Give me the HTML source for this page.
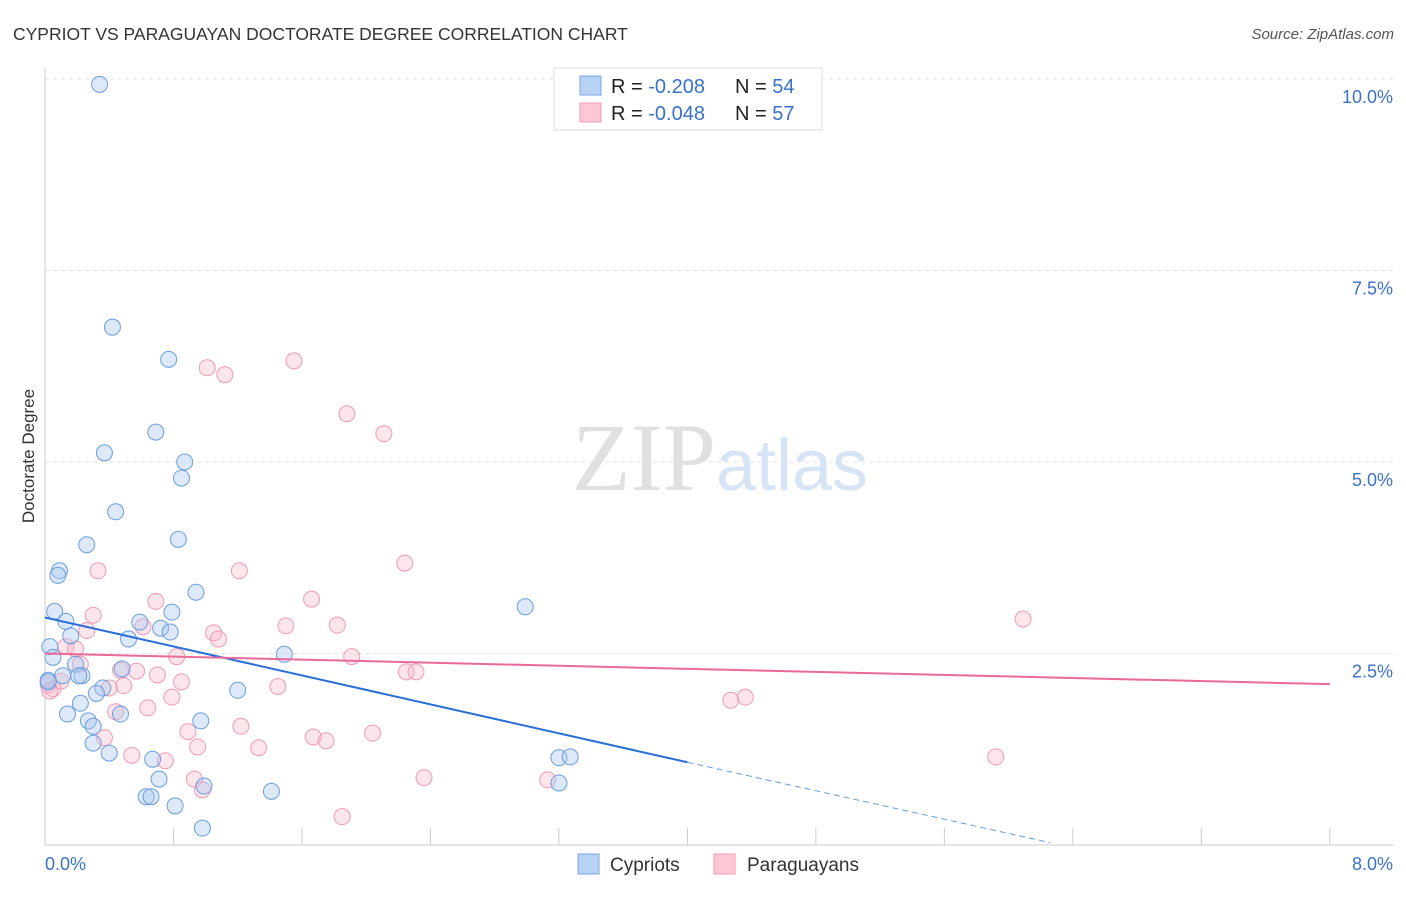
<!DOCTYPE html>
<html><head><meta charset="utf-8">
<style>
body{margin:0;background:#fff;font-family:"Liberation Sans",sans-serif;}
svg text{font-family:"Liberation Sans",sans-serif;}
</style></head>
<body>
<svg id="chart" width="1406" height="892">
<text x="13" y="40" font-size="17.5" fill="#333">CYPRIOT VS PARAGUAYAN DOCTORATE DEGREE CORRELATION CHART</text>
<text x="1394" y="39" font-size="15" fill="#555" text-anchor="end" font-style="italic">Source: ZipAtlas.com</text>
<text x="34" y="456" font-size="17" fill="#333" text-anchor="middle" transform="rotate(-90 34 456)">Doctorate Degree</text>
<g id="grid"></g>
<text x="720" y="490" font-size="96" fill="#ddd" text-anchor="middle" font-family="Liberation Serif"><tspan fill="#e0e0e0" font-family="Liberation Serif">ZIP</tspan><tspan fill="#d6e4f5" font-size="72" font-family="Liberation Sans">atlas</tspan></text>
<g id="marks"></g>
<g>
<rect x="554" y="68" width="268" height="62" fill="#fff" stroke="#ddd"/>
<rect x="580" y="76" width="21" height="19" fill="#b8d2f5" stroke="#7aa7e6"/>
<rect x="580" y="103" width="21" height="19" fill="#fcc8d6" stroke="#f09ab3"/>
<text x="611" y="93" font-size="20" fill="#222">R = <tspan fill="#3a72c8">-0.208</tspan><tspan x="735">N = </tspan><tspan fill="#3a72c8">54</tspan></text>
<text x="611" y="120" font-size="20" fill="#222">R = <tspan fill="#3a72c8">-0.048</tspan><tspan x="735">N = </tspan><tspan fill="#3a72c8">57</tspan></text>
</g>
<g>
<rect x="578" y="854" width="21" height="20" fill="#b8d2f5" stroke="#7aa7e6"/>
<text x="610" y="871" font-size="19" fill="#333">Cypriots</text>
<rect x="714" y="854" width="21" height="20" fill="#fcc8d6" stroke="#f09ab3"/>
<text x="747" y="871" font-size="19" fill="#333">Paraguayans</text>
</g>
</svg>
<script>
const xTicks=[0,0.8,1.6,2.4,3.2,4.0,4.8,5.6,6.4,7.2,8.0];
const yTicks=[2.5,5.0,7.5,10.0];
const yTickLabels=["2.5%","5.0%","7.5%","10.0%"];
const cypX=[0.34,0.42,0.77,0.69,0.37,0.87,0.85,0.44,0.83,0.26,0.09,0.08,0.94,2.99,0.06,0.79,0.13,0.59,0.72,0.78,0.16,0.52,0.03,0.05,1.49,0.19,0.48,0.11,0.23,0.36,1.20,0.32,0.22,0.14,0.47,0.27,0.97,0.30,0.30,0.40,0.67,3.20,3.27,0.71,0.99,1.41,0.63,0.66,0.81,3.20,0.98,0.02,0.02,0.21];
const cypY=[9.93,6.76,6.34,5.39,5.12,5.00,4.79,4.35,3.99,3.92,3.58,3.52,3.30,3.11,3.05,3.04,2.92,2.91,2.83,2.78,2.73,2.69,2.59,2.45,2.49,2.36,2.30,2.21,2.21,2.05,2.02,1.98,1.85,1.71,1.71,1.62,1.62,1.55,1.33,1.20,1.12,1.14,1.15,0.86,0.77,0.70,0.63,0.63,0.51,0.81,0.22,2.15,2.13,2.21];
const parX=[1.55,1.01,1.12,1.88,2.11,2.24,0.33,1.21,0.69,1.66,0.30,6.09,0.26,1.50,1.82,1.05,1.08,0.61,0.13,0.19,0.82,1.91,0.22,0.57,0.47,2.25,2.31,0.70,0.85,0.02,1.45,0.49,0.40,0.10,0.79,4.36,4.27,0.64,0.44,1.22,0.89,1.67,1.75,2.04,0.37,0.95,1.33,0.54,0.75,5.92,2.36,3.13,0.93,0.98,1.85,0.05,0.03];
const parY=[6.32,6.23,6.14,5.63,5.37,3.68,3.58,3.58,3.18,3.21,3.00,2.95,2.80,2.86,2.87,2.77,2.69,2.85,2.59,2.56,2.46,2.46,2.36,2.27,2.28,2.26,2.26,2.22,2.13,2.09,2.07,2.08,2.05,2.14,1.93,1.93,1.89,1.79,1.74,1.55,1.48,1.41,1.36,1.46,1.40,1.28,1.27,1.17,1.10,1.15,0.88,0.85,0.86,0.72,0.37,2.04,2.01];
const cypTrend=[[0,2.97],[4.0,1.08]];
const cypTrendDash=[[4.0,1.08],[6.26,0.03]];
const parTrend=[[0,2.50],[8.0,2.10]];
const NS="http://www.w3.org/2000/svg";
const sx=v=>45+v*160.6, sy=v=>845-v*76.6;
const grid=document.getElementById('grid'), marks=document.getElementById('marks');
function mk(tag,attrs,parent){const e=document.createElementNS(NS,tag);for(const k in attrs)e.setAttribute(k,attrs[k]);parent.appendChild(e);return e;}
let ax=mk('line',{x1:45,y1:68,x2:45,y2:845,stroke:'#ccc'},grid);


let bx=mk('line',{x1:45,y1:845,x2:1394,y2:845,stroke:'#ccc'},grid);


yTicks.forEach((t,i)=>{
 let g=mk('line',{x1:45,y1:sy(t),x2:1394,y2:sy(t),stroke:'#e0e0e0','stroke-dasharray':'4,4'},grid);
 
 
 let l=mk('text',{x:1393,y:sy(t)+24,'font-size':18,fill:'#3a72c8','text-anchor':'end'},grid);
 l.textContent=yTickLabels[i];
 
 
});
xTicks.forEach(t=>{
 let k=mk('line',{x1:sx(t),y1:828,x2:sx(t),y2:845,stroke:'#ccc'},grid);
 
 
});
let xl0=mk('text',{x:45,y:870,'font-size':18,fill:'#3a72c8'},grid);xl0.textContent='0.0%';


let xl1=mk('text',{x:1393,y:870,'font-size':18,fill:'#3a72c8','text-anchor':'end'},grid);xl1.textContent='8.0%';


parX.forEach((x,i)=>{
 let c=mk('circle',{cx:sx(x),cy:sy(parY[i]),r:8,fill:'rgba(248,180,200,0.35)',stroke:'#f09ab3','stroke-width':1},marks);
 
 
});
cypX.forEach((x,i)=>{
 let c=mk('circle',{cx:sx(x),cy:sy(cypY[i]),r:8,fill:'rgba(170,200,240,0.4)',stroke:'#6a9de0','stroke-width':1},marks);
 
 
});
let t1=mk('line',{x1:sx(cypTrend[0][0]),y1:sy(cypTrend[0][1]),x2:sx(cypTrend[1][0]),y2:sy(cypTrend[1][1]),stroke:'#2a6fd6','stroke-width':2},marks);


let t2=mk('line',{x1:sx(cypTrendDash[0][0]),y1:sy(cypTrendDash[0][1]),x2:sx(cypTrendDash[1][0]),y2:sy(cypTrendDash[1][1]),stroke:'#6a9de0','stroke-width':1,'stroke-dasharray':'6,4'},marks);


let t3=mk('line',{x1:sx(parTrend[0][0]),y1:sy(parTrend[0][1]),x2:sx(parTrend[1][0]),y2:sy(parTrend[1][1]),stroke:'#e8699a','stroke-width':2},marks);


</script>
</body></html>
